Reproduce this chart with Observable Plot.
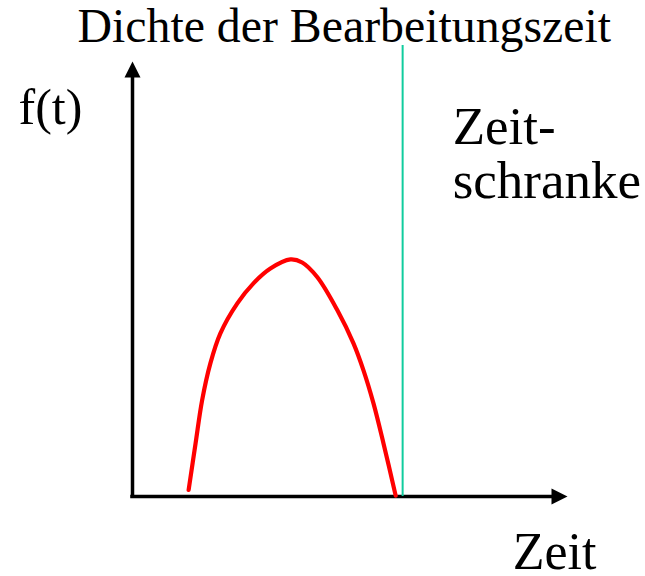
<!DOCTYPE html>
<html>
<head>
<meta charset="utf-8">
<script src="https://cdn.jsdelivr.net/npm/d3@7"></script>
<script src="https://cdn.jsdelivr.net/npm/@observablehq/plot@0.6"></script>
<style>
  html, body { margin: 0; padding: 0; background: #fff; }
</style>
</head>
<body>
<div id="chart"></div>
<script>
// Density curve f(t) (time t, density f)
const curveT = [1.29, 1.45, 1.60, 1.79, 2.02, 2.41, 2.78, 3.17, 3.63, 3.90, 4.25, 4.71, 5.08, 5.31, 5.54, 5.77, 6.05];
const curveF = [0.15, 1.22, 2.21, 3.06, 3.75, 4.44, 4.90, 5.24, 5.45, 5.38, 5.04, 4.28, 3.52, 2.90, 2.14, 1.22, 0.02];

// Time limit (Zeitschranke)
const timeLimit = 6.21;
const timeLimitTop = 10.37;

// Axis extents
const axisEnd = 10;

// Text labels
const labelTexts = ["Dichte der Bearbeitungszeit", "f(t)", "Zeit-", "schranke", "Zeit"];
const labelX = [-1.264, -2.62, 7.36, 7.36, 8.74];
const labelY = [10.44, 8.57, 8.11, 6.87, -1.66];
const labelSize = [47.8, 50, 53, 53, 52];

const curve = curveT.map((t, i) => ({t, f: curveF[i]}));
const labels = labelTexts.map((text, i) => ({text, x: labelX[i], y: labelY[i], size: labelSize[i]}));

// filled arrowhead whose origin is at the tip, pointing up
const arrowHead = {
  draw(context) {
    context.moveTo(0, 0);
    context.lineTo(8, 16);
    context.lineTo(-8, 16);
    context.closePath();
  }
};

const font = "'Liberation Serif', 'Times New Roman', serif";

const chart = Plot.plot({
  width: 645,
  height: 576,
  margin: 0,
  x: {domain: [0, 10], range: [132, 567], axis: null},
  y: {domain: [0, 10], range: [496, 61], axis: null},
  style: {background: "#fff", overflow: "visible"},
  marks: [
    // axes
    Plot.ruleX([0], {y1: -0.04, y2: axisEnd - 0.2, stroke: "black", strokeWidth: 3.5}),
    Plot.ruleY([0], {x1: -0.04, x2: axisEnd - 0.2, stroke: "black", strokeWidth: 3.5}),
    Plot.dot([{x: 0, y: axisEnd}], {x: "x", y: "y", symbol: arrowHead, fill: "black", stroke: "none", r: 8}),
    Plot.dot([{x: axisEnd, y: 0}], {x: "x", y: "y", symbol: arrowHead, fill: "black", stroke: "none", r: 8, rotate: 90}),
    // time limit
    Plot.ruleX([timeLimit], {y1: 0, y2: timeLimitTop, stroke: "#10cc9e", strokeWidth: 2}),
    // density curve
    Plot.line(curve, {x: "t", y: "f", stroke: "#ff0000", strokeWidth: 4.2, curve: "catmull-rom"}),
    // labels
    ...labels.map(d => Plot.text([d], {
      x: "x", y: "y", text: "text", textAnchor: "start", lineAnchor: "bottom",
      fontSize: d.size, fontFamily: font, fill: "black"
    }))
  ]
});
document.getElementById("chart").appendChild(chart);
</script>
</body>
</html>
